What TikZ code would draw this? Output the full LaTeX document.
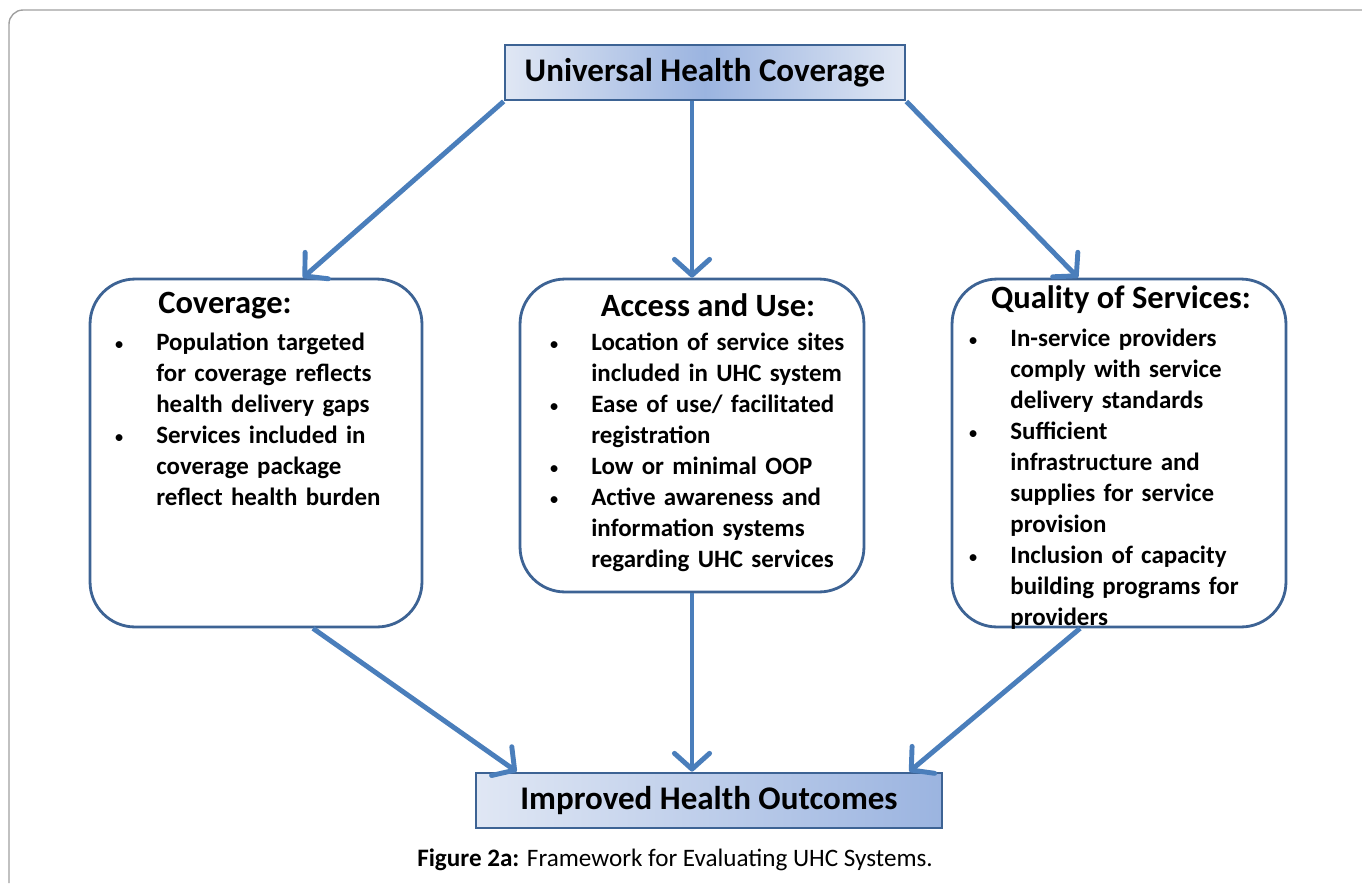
\documentclass[tikz,border=0pt]{standalone}
\usepackage{fontspec}
\setmainfont{Carlito}
\usepackage{xcolor}
\usepackage{tikz}
\usetikzlibrary{arrows.meta,positioning}
\definecolor{edgeblue}{HTML}{3D6394}
\definecolor{arrowblue}{HTML}{4A7EBB}
\definecolor{shadelight}{HTML}{E0E7F4}
\definecolor{shadedark}{HTML}{9BB4E0}
\definecolor{framegray}{HTML}{A0A0A0}
\newlength{\bulind}
\setlength{\bulind}{0.84cm}
\newcommand{\bul}[1]{\noindent\hangindent=\bulind\hangafter=1\makebox[\bulind][l]{{\mdseries\fontsize{11}{11}\selectfont\textbullet}}#1\par}

\begin{document}
\begin{tikzpicture}[
x=0.02cm,y=-0.02cm,
headbox/.style={
  draw=edgeblue,
  line width=1.6pt,
  minimum height=1.1cm,
  inner sep=0pt,
  font=\fontsize{18.8}{22}\selectfont\bfseries
},
roundbox/.style={
  draw=edgeblue,
  line width=1.6pt,
  rounded corners=0.9cm,
  fill=white
},
heading/.style={
  inner sep=0pt,
  font=\fontsize{18.5}{22}\selectfont\bfseries
},
itemlist/.style={
  anchor=north west,
  inner sep=0pt,
  text width=6.2cm,
  font=\fontsize{14.2}{17.64}\selectfont\bfseries
},
flow/.style={
  draw=arrowblue,
  line width=2.8pt,
  -{Straight Barb[length=9pt,width=20pt,round]}
}
]
\useasboundingbox (0,0) rectangle (1362,883);
\draw[framegray,line width=0.8pt,rounded corners=8] (9,883) |- (1362,10);

\node[headbox,minimum width=8cm,left color=shadelight,right color=shadelight,middle color=shadedark] at (705,72.5)
  (uhc) {Universal Health Coverage};
\node[headbox,minimum width=9.32cm,left color=shadelight,right color=shadedark] at (709,800.5)
  (outcomes) {Improved Health Outcomes};

\node[roundbox,minimum width=6.64cm,minimum height=6.96cm] at (256,453)
  (coverage) {};
\node[roundbox,minimum width=6.88cm,minimum height=6.26cm] at (692,435.5)
  (access) {};
\node[roundbox,minimum width=6.68cm,minimum height=6.96cm] at (1119,453)
  (quality) {};

\node[heading] at (225,306) (covtitle) {Coverage:};
\node[heading] at (708,305) (acctitle) {Access and Use:};
\node[heading] at (1121,300) (qualtitle) {Quality of Services:};

\node[itemlist] at (114,333) (covlist) {%
\bul{Population targeted\newline for coverage reflects\newline health delivery gaps}
\bul{Services included in\newline coverage package\newline reflect health burden}};
\node[itemlist] at (549,333) (acclist) {%
\bul{Location of service sites\newline included in UHC system}
\bul{Ease of use/ facilitated\newline registration}
\bul{Low or minimal OOP}
\bul{Active awareness and\newline information systems\newline regarding UHC services}};
\node[itemlist] at (968,329) (quallist) {%
\bul{In-service providers\newline comply with service\newline delivery standards}
\bul{Sufficient\newline infrastructure and\newline supplies for service\newline provision}
\bul{Inclusion of capacity\newline building programs for\newline providers}};

\draw[flow] (uhc.south west) -- ([xshift=0.94cm]coverage.north);
\draw[flow] (uhc.south -| access.north) -- (access.north);
\draw[flow] (uhc.south east) -- ([xshift=-0.82cm]quality.north);
\draw[flow] ([xshift=1.14cm]coverage.south) -- ([xshift=0.84cm]outcomes.north west);
\draw[flow] (access.south) -- (access.south |- outcomes.north);
\draw[flow] ([xshift=-0.78cm]quality.south) -- ([xshift=-0.68cm]outcomes.north east);

\node[font=\fontsize{14.3}{16}\selectfont] at (675,860)
  (caption) {\textbf{Figure 2a:} Framework for Evaluating UHC Systems.};
\end{tikzpicture}
\end{document}
